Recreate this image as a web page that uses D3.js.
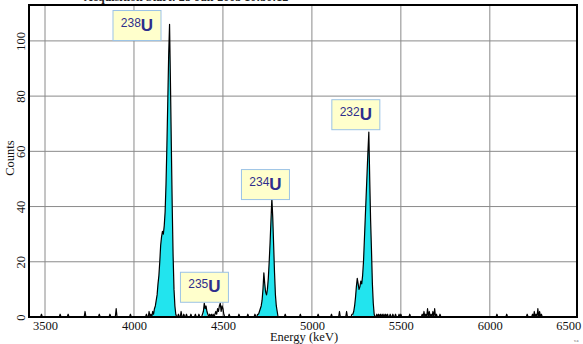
<!DOCTYPE html>
<html><head><meta charset="utf-8">
<script src="https://cdn.jsdelivr.net/npm/d3@7"></script>
<style>
body{margin:0;background:#fff;}
svg{display:block;}
</style></head>
<body>
<svg id="chart" width="583" height="344"></svg>
<script>
// ---------- data ----------
const binWidth = 5; // keV per channel point
const xTicks = [3500, 4000, 4500, 5000, 5500, 6000, 6500];
const yTicks = [0, 20, 40, 60, 80, 100];

// peak regions: first energy (keV) + counts every binWidth keV
const peak238Start = 4090;
const peak238Counts = [0,1,0,2,1,3,4,6,8,12,15,20,26,29,31,30,33,38,48,62,78,95,106,85,62,40,22,10,4,1,0];
const peak235Start = 4380;
const peak235Counts = [0,1,2,5,3,4,2,1,0,1,0,1,0,1,0,1,2,1,3,2,4,5,2,4,3,1,0];
const peak234Start = 4690;
const peak234Counts = [0,1,1,2,3,4,6,10,16,12,9,8,10,14,20,27,35,43,36,26,16,8,4,2,0];
const peak232Start = 5220;
const peak232Counts = [0,1,1,2,4,7,11,14,12,10,11,13,12,15,20,28,36,44,52,60,67,50,35,24,12,5,1,0];

// isolated background channels
const bgEnergy = [3480,3585,3630,3725,3805,3865,3900,3980,4070,4085,
  4250,4265,4280,4295,4320,4345,4365,4535,4590,4640,4680,
  4850,4935,5035,5110,5155,5195,
  5365,5375,5385,5395,5405,5415,5425,5440,5455,5470,5490,5500,5550,
  5620,5630,5640,5650,5660,5670,5680,5690,5700,5720,
  6040,6095,6210,6240,6250,6260,6270,6280,6290];
const bgCounts = [1,1,1,2,1,1,3,1,1,2,
  1,2,1,1,1,1,1,1,1,1,1,
  1,1,1,1,2,2,
  1,1,1,1,1,1,1,1,1,1,1,1,1,
  1,2,1,3,2,1,2,3,1,1,
  1,1,1,1,2,1,3,2,1];

// shaded regions of interest (keV)
const roiStart = [4100, 4390, 4695, 5228];
const roiEnd   = [4238, 4412, 4810, 5352];

// peak labels: isotope mass, box centre energy, box top count
const labelMass   = ["238", "235", "234", "232"];
const labelEnergy = [4017, 4396, 4739, 5247];
const labelTop    = [111, 16.2, 53.4, 78.7];

const xDomain = [3410, 6490];
const yDomain = [0, 113];

// ---------- build spectrum ----------
const counts = new Map();
bgEnergy.forEach((e, i) => counts.set(e, bgCounts[i]));
[[peak238Start, peak238Counts],[peak235Start, peak235Counts],
 [peak234Start, peak234Counts],[peak232Start, peak232Counts]].forEach(([s, arr]) => {
  arr.forEach((c, i) => counts.set(s + i * binWidth, c));
});
const spectrum = d3.range(xDomain[0], xDomain[1] + 1, binWidth)
  .map(e => ({e, c: counts.get(e) || 0}));

// ---------- layout ----------
const svg = d3.select("#chart");
const L = 29, R = 577, T = 5, B = 317;
const x = d3.scaleLinear().domain(xDomain).range([L, R]);
const y = d3.scaleLinear().domain(yDomain).range([B, T]);
const serif = "'Liberation Serif','Times New Roman',serif";

// header (cut off at top, as in the reference)
svg.append("text").attr("x", 84).attr("y", 1)
  .attr("font-family", serif).attr("font-size", 12).attr("font-weight", "bold")
  .attr("fill", "#222").text("Acquisition Start: 28-Jan-2003 10:30:12");

// grid
const grid = svg.append("g");
grid.selectAll("line.v").data(xTicks.filter(t => x(t) > L + 2 && x(t) < R - 2)).join("line")
  .attr("x1", d => x(d)).attr("x2", d => x(d)).attr("y1", T).attr("y2", B)
  .attr("stroke", "#8a8a8a").attr("stroke-width", 1);
grid.selectAll("line.h").data(yTicks.filter(t => t > 0)).join("line")
  .attr("x1", L).attr("x2", R).attr("y1", d => y(d)).attr("y2", d => y(d))
  .attr("stroke", "#8a8a8a").attr("stroke-width", 1);

// ROI fills
const area = d3.area().x(d => x(d.e)).y0(y(0)).y1(d => y(d.c));
roiStart.forEach((s, i) => {
  const pts = spectrum.filter(d => d.e >= s && d.e <= roiEnd[i]);
  svg.append("path").datum(pts).attr("d", area).attr("fill", "#22e4ee");
});

// spectrum line
const line = d3.line().x(d => x(d.e)).y(d => y(d.c));
svg.append("path").datum(spectrum).attr("d", line)
  .attr("fill", "none").attr("stroke", "#000").attr("stroke-width", 1.2)
  .attr("stroke-linejoin", "round");

// frame
svg.append("rect").attr("x", L).attr("y", T).attr("width", R - L).attr("height", B - T)
  .attr("fill", "none").attr("stroke", "#000").attr("stroke-width", 2);

// x axis labels
const xAxis = d3.axisBottom(x).tickValues(xTicks).tickSize(0).tickPadding(4).tickFormat(d3.format("d"));
const gx = svg.append("g").attr("transform", `translate(0,${B})`).call(xAxis);
gx.select(".domain").remove();
gx.selectAll("text").attr("font-family", serif).attr("font-size", 12.5).attr("fill", "#111")
  .attr("text-anchor", d => d === 6500 ? "end" : "middle")
  .attr("dx", d => d === 6500 ? "2" : "0");
svg.append("text").attr("x", 574).attr("y", 342).attr("font-family", serif)
  .attr("font-size", 4).attr("fill", "#555").text("v.a");

svg.append("text").attr("x", 304).attr("y", 341).attr("text-anchor", "middle")
  .attr("font-family", serif).attr("font-size", 12.5).attr("fill", "#111").text("Energy (keV)");

// y axis labels (rotated)
const yAxis = d3.axisLeft(y).tickValues(yTicks).tickSize(0).tickPadding(0).tickFormat(d3.format("d"));
const gy = svg.append("g").attr("transform", `translate(${L},0)`).call(yAxis);
gy.select(".domain").remove();
gy.selectAll(".tick text")
  .attr("font-family", serif).attr("font-size", 12.5).attr("fill", "#111")
  .attr("x", null).attr("dy", null)
  .attr("text-anchor", "middle")
  .attr("transform", "translate(-4,0) rotate(-90)");

svg.append("text").attr("transform", "translate(14,158) rotate(-90)")
  .attr("text-anchor", "middle").attr("font-family", serif).attr("font-size", 12.5)
  .attr("fill", "#111").text("Counts");

// peak labels
const bw = 48, bh = 30;
labelMass.forEach((m, i) => {
  const cx = x(labelEnergy[i]), ty = y(labelTop[i]);
  const g = svg.append("g");
  g.append("rect").attr("x", cx - bw / 2).attr("y", ty).attr("width", bw).attr("height", bh)
    .attr("fill", "#ffffcc").attr("stroke", "#9cc3e6").attr("stroke-width", 1);
  const t = g.append("text").attr("x", cx).attr("y", ty + 20).attr("text-anchor", "middle")
    .attr("font-family", "'Liberation Sans',Arial,sans-serif").attr("fill", "#2e2e8c");
  t.append("tspan").attr("font-size", 12).attr("dy", -4).text(m);
  t.append("tspan").attr("font-size", 17).attr("font-weight", "bold").attr("dy", 4).text("U");
});
</script>
</body></html>
